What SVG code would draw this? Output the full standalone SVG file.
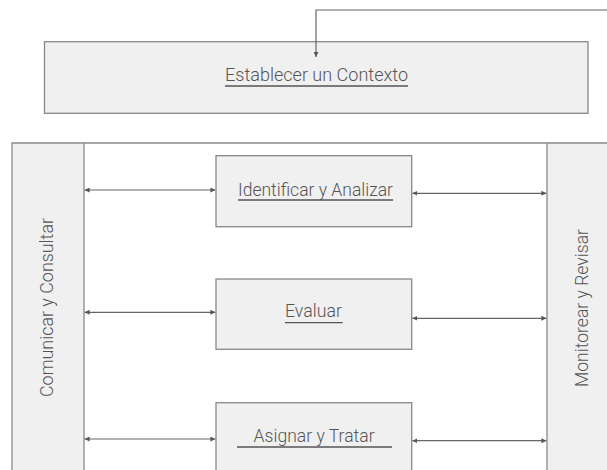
<svg xmlns="http://www.w3.org/2000/svg" width="607" height="470" viewBox="0 0 607 470">
<style>
.box{fill:#f0f0f0;stroke:#888;stroke-width:1.3}
.panel{fill:#f0f0f0;stroke:none}
.frame{stroke:#8a8a8a;stroke-width:1.3;fill:none}
.lbl{font-family:Roboto,"Liberation Sans",Arial,sans-serif;font-weight:300;font-size:18px;fill:#555}
.ul{stroke:#555;stroke-width:1.3}
.conn{stroke:#666;stroke-width:1.2;fill:none}
</style>
<defs>
<marker id="ah" viewBox="0 0 6 6" refX="6" refY="3" markerWidth="5" markerHeight="5" markerUnits="userSpaceOnUse" orient="auto-start-reverse">
<path d="M0,0 L6,3 L0,6 z" fill="#555"/>
</marker>
</defs>
<rect width="607" height="470" fill="#fff"/>
<g id="frame">
<rect class="panel" x="12" y="143" width="72" height="327"/>
<rect class="panel" x="547" y="143" width="60" height="327"/>
<path class="frame" d="M12,470 V143 H607 M84,143 V470 M547,143 V470"/>
</g>
<g id="n-contexto">
<rect class="box" x="44.5" y="41.7" width="543.5" height="71.6"/>
<text class="lbl" x="225" y="81" textLength="183" lengthAdjust="spacingAndGlyphs">Establecer un Contexto</text>
<line class="ul" x1="225" y1="86" x2="408" y2="86"/>
</g>
<g id="n-comunicar">
<text class="lbl" transform="translate(53,397) rotate(-90)" x="0" y="0" textLength="179" lengthAdjust="spacingAndGlyphs">Comunicar y Consultar</text>
</g>
<g id="n-monitorear">
<text class="lbl" transform="translate(588,387) rotate(-90)" x="0" y="0" textLength="158" lengthAdjust="spacingAndGlyphs">Monitorear y Revisar</text>
</g>
<g id="n-identificar">
<rect class="box" x="216" y="155.7" width="195.7" height="71"/>
<text class="lbl" x="238" y="196" textLength="155" lengthAdjust="spacingAndGlyphs">Identificar y Analizar</text>
<line class="ul" x1="238" y1="200" x2="393" y2="200"/>
</g>
<g id="n-evaluar">
<rect class="box" x="216" y="279" width="195.7" height="70.3"/>
<text class="lbl" x="285" y="317.3" textLength="57" lengthAdjust="spacingAndGlyphs">Evaluar</text>
<line class="ul" x1="285" y1="322.7" x2="342.7" y2="322.7"/>
</g>
<g id="n-asignar">
<rect class="box" x="216" y="402.7" width="195.7" height="80"/>
<text class="lbl" x="253.6" y="441.7" textLength="121" lengthAdjust="spacingAndGlyphs">Asignar y Tratar</text>
<line class="ul" x1="237" y1="447" x2="392" y2="447"/>
</g>
<g id="connectors">
<polyline class="conn" points="607,10 316,10 316,57" marker-end="url(#ah)"/>
<line class="conn" x1="84.6" y1="190" x2="215.4" y2="190" marker-start="url(#ah)" marker-end="url(#ah)"/>
<line class="conn" x1="84.6" y1="312.3" x2="215.4" y2="312.3" marker-start="url(#ah)" marker-end="url(#ah)"/>
<line class="conn" x1="84.6" y1="439" x2="215.4" y2="439" marker-start="url(#ah)" marker-end="url(#ah)"/>
<line class="conn" x1="412.4" y1="193.3" x2="546.4" y2="193.3" marker-start="url(#ah)" marker-end="url(#ah)"/>
<line class="conn" x1="412.4" y1="318.3" x2="546.4" y2="318.3" marker-start="url(#ah)" marker-end="url(#ah)"/>
<line class="conn" x1="412.4" y1="440.7" x2="546.4" y2="440.7" marker-start="url(#ah)" marker-end="url(#ah)"/>
</g>
</svg>
